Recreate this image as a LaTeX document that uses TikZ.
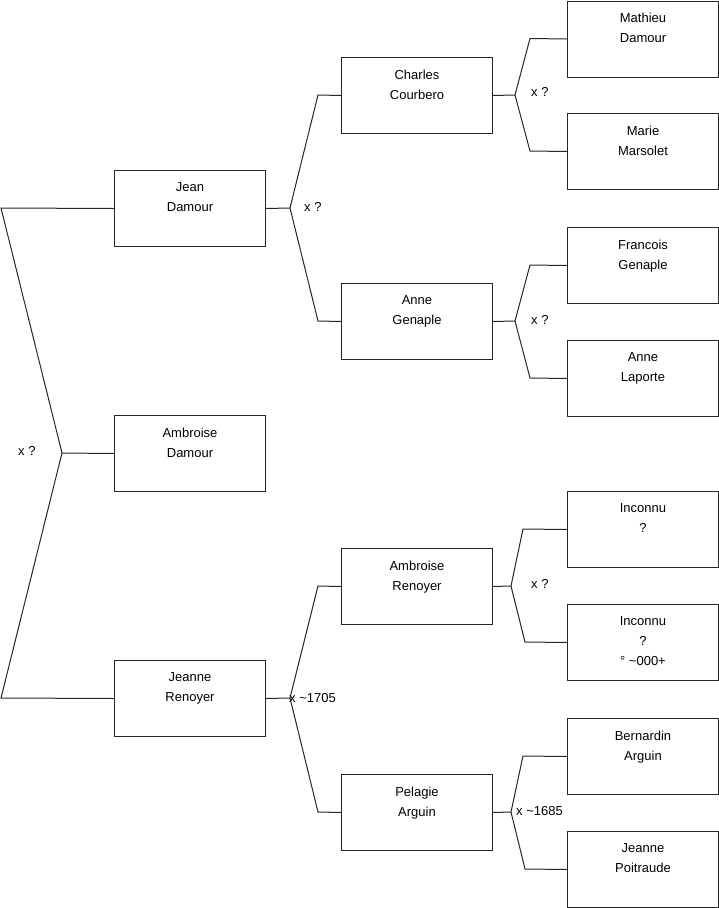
\documentclass[tikz,border=0pt]{standalone}
\usepackage{fontspec}
\setmainfont{Liberation Sans}
\begin{document}
\begin{tikzpicture}[x=1pt,y=-1pt,
  every node/.style={font=\fontsize{13}{20}\selectfont},
  pbox/.style={draw=black!85, line width=1pt, minimum width=151pt, minimum height=76pt, anchor=north west, inner sep=0pt},
  ptxt/.style={anchor=north, inner sep=0pt, align=center, yshift=-12.5pt},
  conn/.style={draw=black!85, line width=1pt},
  lbl/.style={anchor=west, inner sep=0pt}]
\useasboundingbox (0,0) rectangle (719,908);
% column 1
\node[pbox] (jean) at (114,170) {};
\node[ptxt] (tjean) at (jean.north) {Jean\\Damour};
\node[pbox] (ambd) at (114,415) {};
\node[ptxt] (tambd) at (ambd.north) {Ambroise\\Damour};
\node[pbox] (jeanne) at (114,660) {};
\node[ptxt] (tjeanne) at (jeanne.north) {Jeanne\\Renoyer};
% column 2
\node[pbox] (charles) at (341,57) {};
\node[ptxt] (tcharles) at (charles.north) {Charles\\Courbero};
\node[pbox] (anneg) at (341,283) {};
\node[ptxt] (tanneg) at (anneg.north) {Anne\\Genaple};
\node[pbox] (ambr) at (341,548) {};
\node[ptxt] (tambr) at (ambr.north) {Ambroise\\Renoyer};
\node[pbox] (pelagie) at (341,774) {};
\node[ptxt] (tpelagie) at (pelagie.north) {Pelagie\\Arguin};
% column 3
\node[pbox] (mathieu) at (567,0.5) {};
\node[ptxt] (tmathieu) at (mathieu.north) {Mathieu\\Damour};
\node[pbox] (marie) at (567,113) {};
\node[ptxt] (tmarie) at (marie.north) {Marie\\Marsolet};
\node[pbox] (francois) at (567,227) {};
\node[ptxt] (tfrancois) at (francois.north) {Francois\\Genaple};
\node[pbox] (annel) at (567,340) {};
\node[ptxt] (tannel) at (annel.north) {Anne\\Laporte};
\node[pbox] (inc1) at (567,491) {};
\node[ptxt] (tinc1) at (inc1.north) {Inconnu\\?};
\node[pbox] (inc2) at (567,604) {};
\node[ptxt] (tinc2) at (inc2.north) {Inconnu\\?\\° \textasciitilde 000+};
\node[pbox] (bern) at (567,718) {};
\node[ptxt] (tbern) at (bern.north) {Bernardin\\Arguin};
\node[pbox] (jeannep) at (567,831) {};
\node[ptxt] (tjeannep) at (jeannep.north) {Jeanne\\Poitraude};
% junctions
\coordinate (r) at (62,453);
\coordinate (rT) at (1,208);
\coordinate (rB) at (1,698);
\coordinate (j) at (290,208);
\coordinate (jT) at (318,95);
\coordinate (jB) at (318,321);
\coordinate (n) at (290,698);
\coordinate (nT) at (318,586);
\coordinate (nB) at (318,812);
\coordinate (c) at (515,95);
\coordinate (cT) at (530,38.5);
\coordinate (cB) at (530,151);
\coordinate (g) at (515,321);
\coordinate (gT) at (530,265);
\coordinate (gB) at (530,378);
\coordinate (a) at (511,586);
\coordinate (aT) at (523,529);
\coordinate (aB) at (525,642);
\coordinate (p) at (511,812);
\coordinate (pT) at (523,756);
\coordinate (pB) at (525,869);
% connectors
\draw[conn] (jean.west) -- (rT) -- (r) -- (rB) -- (jeanne.west);
\draw[conn] (ambd.west) -- (r);
\draw[conn] (jean.east) -- (j);
\draw[conn] (charles.west) -- (jT) -- (j) -- (jB) -- (anneg.west);
\draw[conn] (jeanne.east) -- (n);
\draw[conn] (ambr.west) -- (nT) -- (n) -- (nB) -- (pelagie.west);
\draw[conn] (charles.east) -- (c);
\draw[conn] (mathieu.west) -- (cT) -- (c) -- (cB) -- (marie.west);
\draw[conn] (anneg.east) -- (g);
\draw[conn] (francois.west) -- (gT) -- (g) -- (gB) -- (annel.west);
\draw[conn] (ambr.east) -- (a);
\draw[conn] (inc1.west) -- (aT) -- (a) -- (aB) -- (inc2.west);
\draw[conn] (pelagie.east) -- (p);
\draw[conn] (bern.west) -- (pT) -- (p) -- (pB) -- (jeannep.west);
% labels
\node[lbl] (lr) at (18,451) {x ?};
\node[lbl] (lj) at (304,207) {x ?};
\node[lbl] (ln) at (289,698) {x \textasciitilde 1705};
\node[lbl] (lc) at (531,92) {x ?};
\node[lbl] (lg) at (531,320) {x ?};
\node[lbl] (la) at (531,584) {x ?};
\node[lbl] (lp) at (516,811) {x \textasciitilde 1685};
\end{tikzpicture}
\end{document}
